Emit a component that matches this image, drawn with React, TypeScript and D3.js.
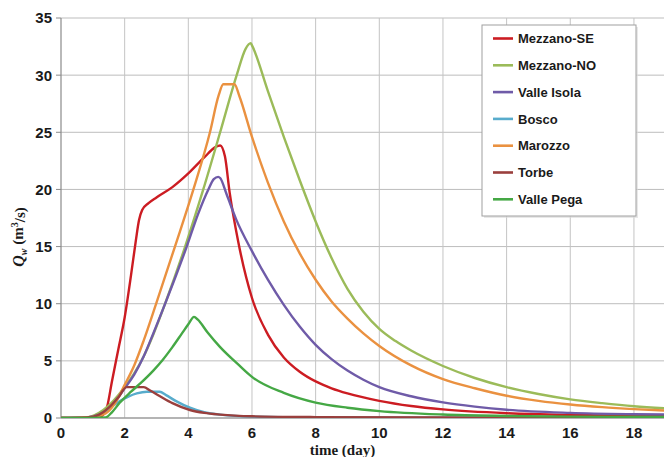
import React from "react";
import * as d3 from "d3";

type Pt = [number, number];

const seriesNames = ["Mezzano-SE", "Mezzano-NO", "Valle Isola", "Bosco", "Marozzo", "Torbe", "Valle Pega"];
const seriesColors = ["#CC1C22", "#9BBB59", "#6F5BA8", "#58ACCC", "#EA9140", "#9A3F3D", "#45A845"];

const mezzanoSE: Pt[] = [
  [0, 0], [0.8, 0.03], [1.2, 0.1], [1.35, 0.35], [1.45, 1.0], [1.6, 3.2], [1.8, 6.0], [2.0, 8.8], [2.2, 12.5],
  [2.35, 15.5], [2.45, 17.3], [2.55, 18.2], [2.75, 18.8], [3.0, 19.3], [3.5, 20.2], [4.0, 21.4], [4.5, 22.8],
  [4.85, 23.7], [5.0, 23.85], [5.15, 22.9], [5.3, 19.7], [5.57, 15.4], [6.0, 10.5], [6.5, 7.3], [7.0, 5.3],
  [7.5, 4.05], [8.0, 3.2], [8.5, 2.6], [9.0, 2.15], [10.0, 1.5], [11.0, 1.05], [12.0, 0.75], [14.0, 0.42],
  [16.0, 0.27], [18.0, 0.2], [20.0, 0.16],
];
const mezzanoNO: Pt[] = [
  [0, 0], [0.8, 0.05], [1.33, 0.7], [2.0, 2.7], [2.3, 3.9], [2.6, 5.4], [2.9, 7.3], [3.27, 10], [3.9, 15],
  [4.47, 20], [5.0, 25], [5.52, 30], [5.8, 32.3], [5.96, 32.8], [6.0, 32.6], [6.5, 28.6], [7.0, 24.6],
  [7.5, 20.8], [8.0, 17.2], [8.5, 14.0], [9.0, 11.3], [9.5, 9.3], [10.0, 7.8], [10.5, 6.75], [11.0, 5.9],
  [12.0, 4.55], [13.0, 3.5], [14.0, 2.7], [15.0, 2.1], [16.0, 1.63], [17.0, 1.3], [18.0, 1.03], [19.0, 0.85],
  [20.0, 0.72],
];
const valleIsola: Pt[] = [
  [0, 0], [0.8, 0.05], [1.2, 0.3], [1.5, 0.8], [2.0, 2.6], [2.3, 3.8], [2.6, 5.4], [2.9, 7.4], [3.3, 10.2],
  [3.95, 15], [4.3, 17.8], [4.63, 20], [4.8, 20.9], [4.94, 21.1], [5.0, 21.0], [5.2, 19.6], [5.5, 17.4],
  [6.0, 14.6], [6.5, 12.1], [7.0, 9.9], [7.5, 8.0], [8.0, 6.4], [8.5, 5.15], [9.0, 4.15], [9.5, 3.35],
  [10.0, 2.7], [11.0, 1.9], [12.0, 1.37], [13.0, 1.0], [14.0, 0.72], [16.0, 0.45], [18.0, 0.33], [20.0, 0.27],
];
const bosco: Pt[] = [
  [0, 0], [0.8, 0.05], [1.2, 0.3], [1.5, 0.8], [1.8, 1.4], [2.1, 1.85], [2.38, 2.15], [2.7, 2.3], [3.1, 2.3],
  [3.3, 2.0], [3.6, 1.5], [4.05, 0.9], [4.5, 0.5], [5.0, 0.3], [6.0, 0.12], [8.0, 0.05], [20.0, 0.02],
];
const marozzo: Pt[] = [
  [0, 0], [1.0, 0.1], [1.4, 0.4], [1.7, 1.3], [2.0, 2.9], [2.3, 4.6], [2.6, 6.8], [3.0, 10.1], [3.58, 15],
  [4.16, 20], [4.68, 25], [4.95, 28.2], [5.1, 29.2], [5.45, 29.2], [5.6, 28.2], [6.0, 24.6], [6.5, 20.6],
  [7.0, 17.2], [7.5, 14.4], [8.0, 12.1], [8.5, 10.2], [9.0, 8.7], [9.5, 7.4], [10.0, 6.3], [11.0, 4.6],
  [12.0, 3.4], [13.0, 2.6], [14.0, 1.95], [15.0, 1.5], [16.0, 1.18], [17.0, 0.95], [18.0, 0.78], [19.0, 0.65],
  [20.0, 0.56],
];
const torbe: Pt[] = [
  [0, 0], [0.8, 0.05], [1.2, 0.3], [1.5, 0.9], [1.8, 1.8], [2.06, 2.7], [2.6, 2.7], [2.8, 2.4], [3.11, 1.9],
  [3.5, 1.3], [4.05, 0.7], [4.5, 0.45], [5.0, 0.3], [6.0, 0.15], [8.0, 0.08], [12.0, 0.04], [20.0, 0.02],
];
const vallePega: Pt[] = [
  [0, 0], [1.0, 0.01], [1.4, 0.05], [1.6, 0.5], [1.85, 1.35], [2.2, 2.3], [2.5, 3.05], [2.9, 4.15], [3.2, 5.1],
  [3.5, 6.2], [3.8, 7.4], [4.0, 8.2], [4.18, 8.85], [4.3, 8.6], [4.6, 7.5], [5.0, 6.2], [5.6, 4.6],
  [6.0, 3.6], [7.0, 2.2], [8.0, 1.35], [9.0, 0.9], [10.0, 0.6], [12.0, 0.3], [14.0, 0.18], [16.0, 0.12], [20.0, 0.08],
];

const seriesData = [mezzanoSE, mezzanoNO, valleIsola, bosco, marozzo, torbe, vallePega];
const xTicks = [0, 2, 4, 6, 8, 10, 12, 14, 16, 18];
const yTicks = [0, 5, 10, 15, 20, 25, 30, 35];

const W = 664;
const H = 457;
const left = 61;
const top = 18;
const bottom = 418;
const pxPerDay = 31.83;

export default function App() {
  const x = d3.scaleLinear().domain([0, 20]).range([left, left + 20 * pxPerDay]);
  const y = d3.scaleLinear().domain([0, 35]).range([bottom, top]);
  const line = d3
    .line<Pt>()
    .x((d) => x(d[0]))
    .y((d) => y(d[1]))
    .curve(d3.curveMonotoneX);

  const legX = 482;
  const legY = 25;
  const legW = 154;
  const legH = 191;
  const legStep = 26.8;

  return (
    <svg width={W} height={H} style={{ position: "absolute", left: 0, top: 0, background: "#fff" }}>
      <defs>
        <clipPath id="plot">
          <rect x={left} y={top - 2} width={W - left} height={bottom - top + 2} />
        </clipPath>
      </defs>
      <rect x={0} y={0} width={W} height={H} fill="#fff" />
      {yTicks.map((t) => (
        <line key={"gy" + t} x1={left} x2={W} y1={y(t)} y2={y(t)} stroke="#bdbdbd" strokeWidth={1} />
      ))}
      {xTicks.filter((t) => t > 0).map((t) => (
        <line key={"gx" + t} x1={x(t)} x2={x(t)} y1={top} y2={bottom} stroke="#c4c4c4" strokeWidth={1} />
      ))}
      <line x1={left} x2={left} y1={top} y2={bottom} stroke="#8a8a8a" strokeWidth={1.2} />
      <line x1={left} x2={W} y1={bottom} y2={bottom} stroke="#8a8a8a" strokeWidth={1.2} />
      {yTicks.map((t) => (
        <line key={"ty" + t} x1={left - 5} x2={left} y1={y(t)} y2={y(t)} stroke="#8a8a8a" strokeWidth={1} />
      ))}
      <g clipPath="url(#plot)">
        {seriesData.map((d, i) => (
          <path key={i} d={line(d) || ""} fill="none" stroke={seriesColors[i]} strokeWidth={2.4} strokeLinejoin="round" />
        ))}
      </g>
      {yTicks.map((t) => (
        <text
          key={"ly" + t}
          x={52}
          y={y(t)}
          dy="0.36em"
          textAnchor="end"
          fontFamily="Liberation Sans, Arial, sans-serif"
          fontWeight="bold"
          fontSize={15}
          fill="#1a1a1a"
        >
          {t}
        </text>
      ))}
      {xTicks.map((t) => (
        <text
          key={"lx" + t}
          x={x(t)}
          y={433}
          dy="0.36em"
          textAnchor="middle"
          fontFamily="Liberation Sans, Arial, sans-serif"
          fontWeight="bold"
          fontSize={15}
          fill="#1a1a1a"
        >
          {t}
        </text>
      ))}
      <text
        x={(left + W) / 2 - 20}
        y={450}
        dy="0.35em"
        textAnchor="middle"
        fontFamily="Liberation Serif, Times New Roman, serif"
        fontWeight="bold"
        fontSize={15}
        fill="#1a1a1a"
      >
        time (day)
      </text>
      <text
        transform={`translate(19,237) rotate(-90)`}
        textAnchor="middle"
        dy="0.35em"
        fontFamily="Liberation Serif, Times New Roman, serif"
        fontWeight="bold"
        fontSize={15}
        fill="#1a1a1a"
      >
        <tspan fontStyle="italic" fontSize={16}>Q</tspan>
        <tspan fontSize={10} dy="0.3em" fontStyle="italic">w</tspan>
        <tspan dy="-0.3em"> (m</tspan>
        <tspan fontSize={10} dy="-0.45em">3</tspan>
        <tspan dy="0.45em">/s)</tspan>
      </text>
      <rect x={legX + 2} y={legY + 2} width={legW} height={legH} fill="#d8d8d8" opacity={0.6} />
      <rect x={legX} y={legY} width={legW} height={legH} fill="#fff" stroke="#a0a0a0" strokeWidth={1} />
      {seriesNames.map((n, i) => {
        const yy = legY + 13.5 + i * legStep;
        return (
          <g key={n}>
            <line x1={493} x2={513} y1={yy} y2={yy} stroke={seriesColors[i]} strokeWidth={2.6} />
            <text
              x={518}
              y={yy}
              dy="0.36em"
              fontFamily="Liberation Sans, Arial, sans-serif"
              fontWeight="bold"
              fontSize={13}
              fill="#1a1a1a"
            >
              {n}
            </text>
          </g>
        );
      })}
    </svg>
  );
}
